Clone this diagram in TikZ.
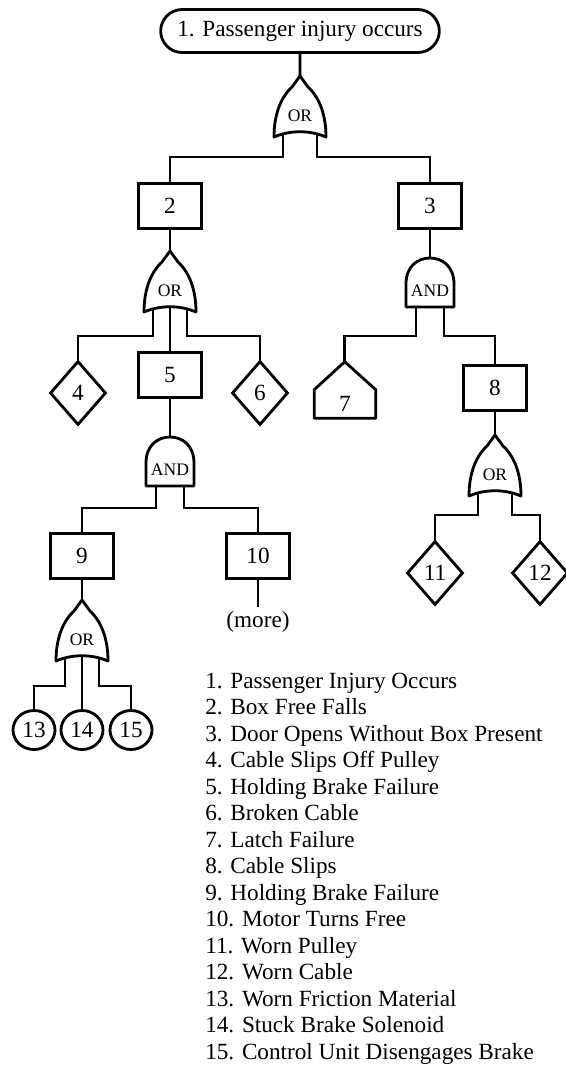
\documentclass[tikz,border=0pt]{standalone}
\usepackage{fontspec}
\setmainfont{Liberation Serif}
\usepackage{tikz}
\usetikzlibrary{calc, shapes.geometric, shapes.misc, positioning}

\tikzset{
    wire/.style={line width=2pt},
    gateline/.style={line width=2pt, line join=round},
    gatelabel/.style={font=\fontsize{12.5}{13}\selectfont, inner sep=0pt},
    topev/.style={rounded rectangle, draw, line width=2pt, minimum width=72mm, minimum height=10.75mm},
    midev/.style={rectangle, draw, line width=2pt, minimum width=15.75mm, minimum height=11.25mm, inner sep=0pt},
    undevev/.style={diamond, draw, line width=2pt, minimum width=14mm, minimum height=16mm, inner sep=0pt},
    basicev/.style={ellipse, draw, line width=2pt, minimum width=10.5mm, minimum height=9.75mm, inner sep=0pt},
    houseev/.style={rectangle, minimum width=15.25mm, minimum height=7mm, inner sep=0pt},
    % OR gate: apex at the origin
    orgate/.pic={
        \draw[gateline] (0,0) -- (-8,-11) .. controls (-20,-22) and (-26,-40) .. (-26,-61)
            .. controls (-10,-54) and (10,-54) .. (26,-61)
            .. controls (26,-40) and (20,-22) .. (8,-11) -- cycle;
        \node[gatelabel] (-lbl) at (0,-40) {OR};
        \coordinate (-top) at (0,0);
        \coordinate (-l) at (-17,-58);
        \coordinate (-m) at (0,-56);
        \coordinate (-r) at (17,-58);
    },
    % AND gate: apex at the origin
    andgate/.pic={
        \draw[gateline] (-24,-49) -- (-24,-26) .. controls (-24,-8) and (-12,0) .. (0,0)
            .. controls (12,0) and (24,-8) .. (24,-26) -- (24,-49) -- cycle;
        \node[gatelabel] (-lbl) at (0,-33) {AND};
        \coordinate (-top) at (0,0);
        \coordinate (-l) at (-14,-49);
        \coordinate (-r) at (14,-49);
    }
}

\begin{document}
\begin{tikzpicture}[x=0.25mm, y=0.25mm, font=\fontsize{16.5}{19}\selectfont]
    \useasboundingbox (0,0) rectangle (566,-1066);

    % Top event
    \node[topev] (e1) at (300,-31) {1. Passenger injury occurs};
    \pic (g1) at (300,-76) {orgate};
    \draw[wire] (e1) -- (g1-top);

    % Left branch: box free falls
    \node[midev] (e2) at (170,-206) {2};
    \draw[wire] (g1-l) -- ++(0,-23) -| (e2);
    \pic (g2) at (170,-251) {orgate};
    \draw[wire] (e2) -- (g2-top);

    \node[undevev] (e4) at (78,-393) {4};
    \node[midev] (e5) at (170,-375) {5};
    \node[undevev] (e6) at (260,-393) {6};
    \draw[wire] (g2-l) -- ++(0,-27) -| (e4);
    \draw[wire] (g2-m) -- (e5);
    \draw[wire] (g2-r) -- ++(0,-27) -| (e6);

    \pic (g3) at (170,-437) {andgate};
    \draw[wire] (e5) -- (g3-top);
    \node[midev] (e9) at (82,-556) {9};
    \node[midev] (e10) at (258,-556) {10};
    \draw[wire] (g3-l) -- ++(0,-22) -| (e9);
    \draw[wire] (g3-r) -- ++(0,-22) -| (e10);
    \node (more) at (258,-622) {(more)};
    \draw[wire] (e10) -- (more);

    \pic (g5) at (82,-600) {orgate};
    \draw[wire] (e9) -- (g5-top);
    \node[basicev] (e13) at (34,-730) {13};
    \node[basicev] (e14) at (82,-730) {14};
    \node[basicev] (e15) at (131,-730) {15};
    \draw[wire] (g5-l) -- ++(0,-28) -| (e13);
    \draw[wire] (g5-m) -- (e14);
    \draw[wire] (g5-r) -- ++(0,-28) -| (e15);

    % Right branch: door opens
    \node[midev] (e3) at (430,-206) {3};
    \draw[wire] (g1-r) -- ++(0,-23) -| (e3);
    \pic (g4) at (430,-258) {andgate};
    \draw[wire] (e3) -- (g4-top);

    \node[houseev] (e7) at (345,-404) {7};
    \draw[gateline] (e7.south west) -- (e7.north west) -- ++(30.5,28) coordinate (e7top)
        -- (e7.north east) -- (e7.south east) -- cycle;
    \node[midev] (e8) at (495,-388) {8};
    \draw[wire] (g4-l) -- ++(0,-29) -| (e7top);
    \draw[wire] (g4-r) -- ++(0,-29) -| (e8);

    \pic (g6) at (495,-435) {orgate};
    \draw[wire] (e8) -- (g6-top);
    \node[undevev] (e11) at (435,-573) {11};
    \node[undevev] (e12) at (540,-573) {12};
    \draw[wire] (g6-l) -- ++(0,-22) -| (e11);
    \draw[wire] (g6-r) -- ++(0,-22) -| (e12);

    % Legend
    \foreach \txt [count=\i] in {Passenger Injury Occurs, Box Free Falls,
        Door Opens Without Box Present, Cable Slips Off Pulley,
        Holding Brake Failure, Broken Cable, Latch Failure, Cable Slips,
        Holding Brake Failure, Motor Turns Free, Worn Pulley, Worn Cable,
        Worn Friction Material, Stuck Brake Solenoid,
        Control Unit Disengages Brake} {
        \node[anchor=base west, inner sep=0pt] (leg\i) at (205,{-688-26.5*(\i-1)}) {\i. \txt};
    }
\end{tikzpicture}
\end{document}
